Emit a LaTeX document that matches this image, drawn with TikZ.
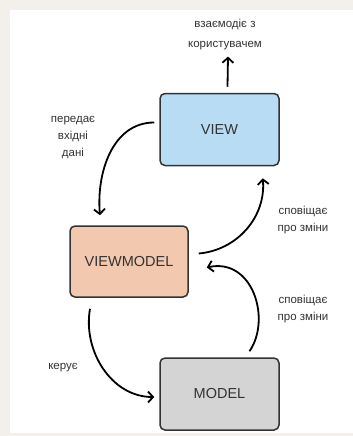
\documentclass[tikz,border=0pt]{standalone}
\usepackage{fontspec}
\setmainfont{Liberation Sans}
\usetikzlibrary{arrows.meta,calc}
\definecolor{pagebg}{HTML}{F3EFEA}
\definecolor{viewfill}{HTML}{B7DCF4}
\definecolor{vmfill}{HTML}{F2C8AE}
\definecolor{modelfill}{HTML}{D4D4D4}
\definecolor{ink}{HTML}{333333}
\tikzset{
  box/.style={draw=ink, line width=1.5pt, rounded corners=5pt,
    minimum width=119pt, minimum height=72pt, inner sep=0pt,
    text=ink, font=\fontsize{14.5}{17}\selectfont},
  lbl/.style={text=ink, align=center, inner sep=0pt,
    font=\fontsize{11.5}{17}\selectfont},
  flow/.style={draw=black, line width=1.8pt,
    -{Straight Barb[length=5pt,width=11pt,line width=1.8pt]}}
}
\begin{document}
\begin{tikzpicture}[x=1pt,y=-1pt]
  % page and white panel
  \fill[pagebg] (0,0) rectangle (353,436);
  \fill[white] (10,10) rectangle (353,433);
  \useasboundingbox (0,0) rectangle (353,436);

  % components
  \node[box, fill=viewfill]  (view)  at (219.5,129.5) {VIEW};
  \node[box, fill=vmfill, minimum width=118pt, minimum height=71pt] (vm) at (129,261.5) {VIEWMODEL};
  \node[box, fill=modelfill] (model) at (219.5,394) {MODEL};

  % labels
  \node[lbl, font=\fontsize{11.5}{20}\selectfont] (user) at (225,35) {взаємодіє з\\користувачем};
  \node[lbl] (input)  at (73,138)  {передає\\вхідні\\дані};
  \node[lbl] (notev)  at (303,220) {сповіщає\\про зміни};
  \node[lbl] (notevm) at (303,309) {сповіщає\\про зміни};
  \node[lbl] (ctrl)   at (63,368)  {керує};

  % interaction arrows
  \coordinate (u0) at ($(view.north)+(8,-6)$);
  \coordinate (u1) at ($(user.south)+(3,6)$);
  \draw[flow] (u0) -- (u1);

  \draw[flow] ($(view.west)+(-5,-7)$) to[out=180,in=95]
    ($(vm.north)+(-29,-10)$);
  \draw[flow] ($(vm.east)+(10,-8)$) to[out=5,in=-85]
    ($(view.south east)+(-17,12)$);
  \coordinate (m0) at ($(model.north)+(30,-6)$);
  \coordinate (m1) at ($(vm.east)+(18,6)$);
  \draw[flow] (m0) .. controls +(22,-32) and +(46,-10) .. (m1);
  \draw[flow] ($(vm.south)+(-39,11)$) to[out=-100,in=180]
    ($(model.west)+(-5,3)$);
\end{tikzpicture}
\end{document}
